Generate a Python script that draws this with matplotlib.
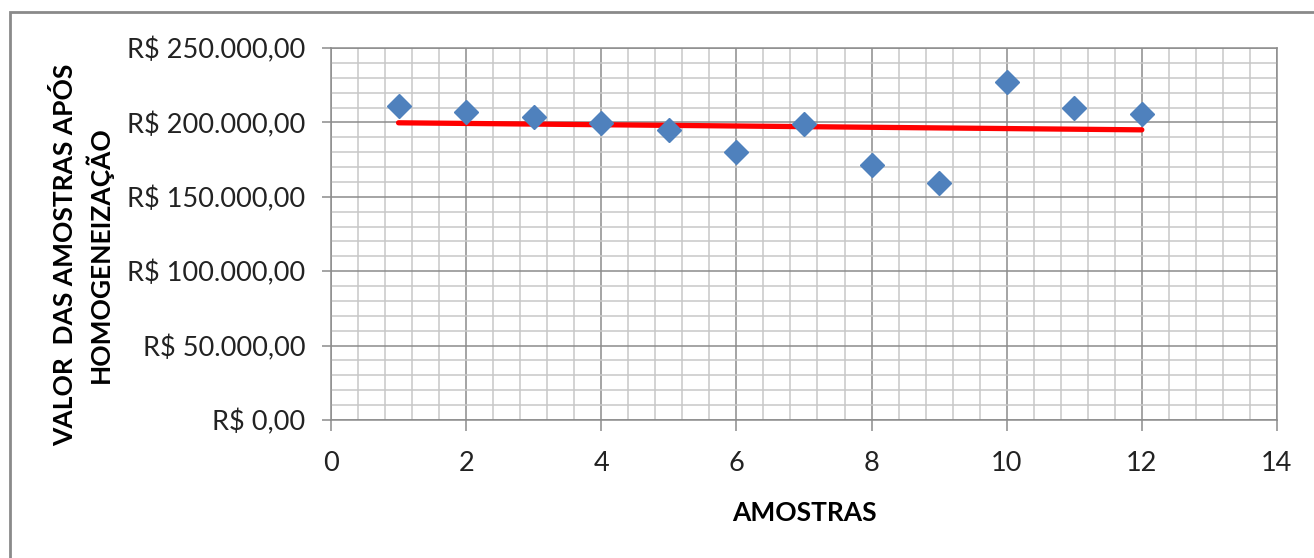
import numpy as np
import matplotlib
matplotlib.use("Agg")
import matplotlib.pyplot as plt
from matplotlib.ticker import MultipleLocator, FuncFormatter
from matplotlib.patches import Rectangle

# Data
amostras = [1, 2, 3, 4, 5, 6, 7, 8, 9, 10, 11, 12]
valores = [211000, 207000, 203600, 199600, 194900, 180100,
           198900, 171400, 159300, 227200, 209700, 205600]

x_label = "AMOSTRAS"
y_label = "VALOR  DAS AMOSTRAS APÓS\nHOMOGENEIZAÇÃO"

plt.rcParams['font.family'] = ['Lato', 'DejaVu Sans']


def brl(v, pos=None):
    s = f"{v:,.2f}"
    s = s.replace(",", "X").replace(".", ",").replace("X", ".")
    return "R$ " + s


fig = plt.figure(figsize=(13.14, 5.58), dpi=100)
ax = fig.add_axes([0.2519, 0.2473, 0.7199, 0.6667])

# outer chart frame (cut off at right/bottom)
fig.patches.append(Rectangle((10/1314, -0.05), 1.2, 1 - 12/558 + 0.05,
                             transform=fig.transFigure, fill=False,
                             edgecolor='#8a8a8a', linewidth=2))

# linear trend line
coef = np.polyfit(amostras, valores, 1)
xt = np.array([amostras[0], amostras[-1]])
ax.plot(xt, np.polyval(coef, xt), color='#ff0000', linewidth=3.8,
        solid_capstyle='round', zorder=3)

ax.plot(amostras, valores, linestyle='none', marker='D', markersize=12,
        color='#4f81bd', zorder=4)

ax.set_xlim(0, 14)
ax.set_ylim(0, 250000)
ax.xaxis.set_major_locator(MultipleLocator(2))
ax.xaxis.set_minor_locator(MultipleLocator(0.4))
ax.yaxis.set_major_locator(MultipleLocator(50000))
ax.yaxis.set_minor_locator(MultipleLocator(10000))
ax.yaxis.set_major_formatter(FuncFormatter(brl))

ax.grid(which='major', color='#8c8c8c', linewidth=1.1)
ax.grid(which='minor', color='#c8c8c8', linewidth=1.1)
ax.set_axisbelow(True)

for sp in ax.spines.values():
    sp.set_color('#8c8c8c')
    sp.set_linewidth(1.1)

ax.tick_params(which='major', direction='out', width=1.1,
               color='#8c8c8c', labelsize=19.5, labelcolor='#222222')
ax.tick_params(axis='x', length=8, pad=14)
ax.tick_params(axis='y', length=6.5, pad=12)
ax.tick_params(which='minor', length=0)

ax.set_xlabel(x_label, fontsize=19, fontweight='bold', labelpad=18)
ax.set_ylabel(y_label, fontsize=19, fontweight='bold', labelpad=10,
              linespacing=1.3)
ax.yaxis.label.set_y(0.445)

fig.savefig("out.png", dpi=100)
